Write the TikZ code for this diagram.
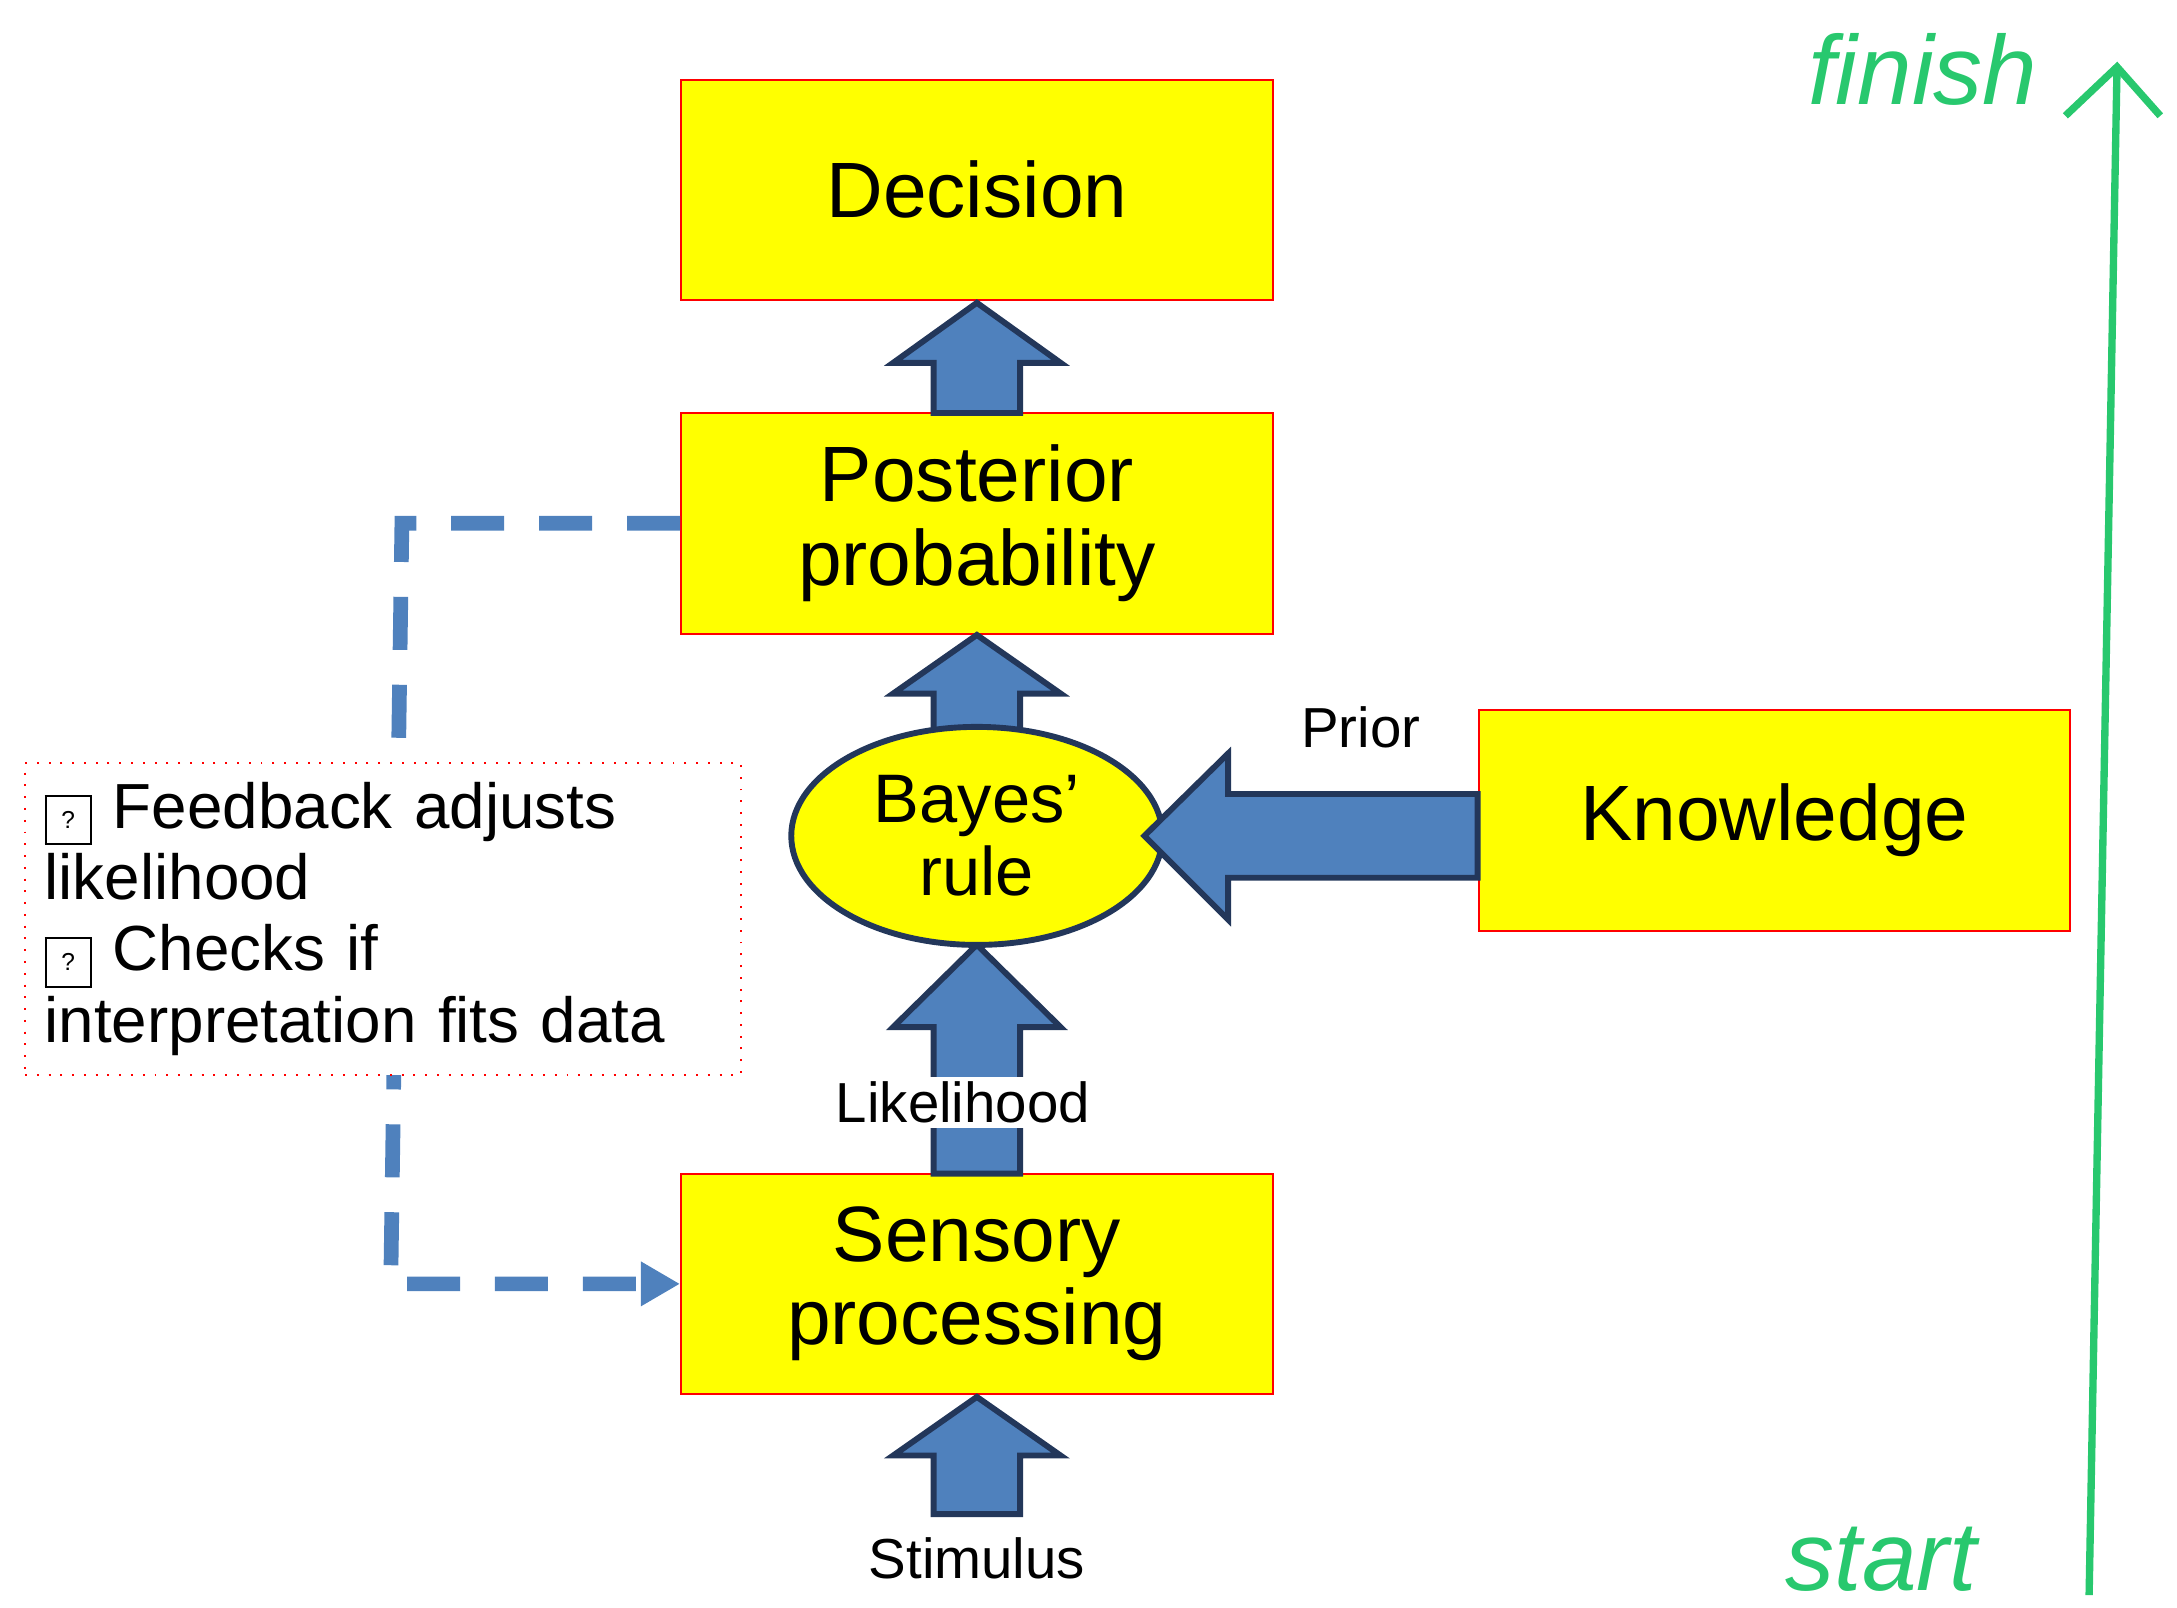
\documentclass[tikz,border=0pt]{standalone}
\usepackage{fontspec}
\setmainfont{Liberation Sans}
\usetikzlibrary{arrows.meta,shapes.geometric}
\definecolor{boxyellow}{RGB}{255,255,0}
\definecolor{arrowblue}{RGB}{79,129,189}
\definecolor{arrowedge}{RGB}{35,55,90}
\definecolor{penGreen}{RGB}{40,200,110}
\tikzset{
  stage/.style={draw=red,fill=boxyellow,minimum width=4.24cm,minimum height=1.58cm,align=center,font=\fontsize{16}{18}\selectfont},
  fat/.style={fill=arrowblue,draw=arrowedge,line width=1.2pt,line join=miter},
  label/.style={font=\fontsize{11.5}{13}\selectfont}
}
\newcommand{\qmark}{\fbox{\tiny ?}}
% block arrow pointing up: tip, base of head, foot of shaft
\newcommand{\uparr}[4]{\draw[fat] (#1,#4) -- (#1-0.31,#4) -- (#1-0.31,#3) -- (#1-0.6,#3) -- (#1,#2) -- (#1+0.6,#3) -- (#1+0.31,#3) -- (#1+0.31,#4) -- cycle;}

\begin{document}
\begin{tikzpicture}
\useasboundingbox (0,0) rectangle (15.6,11.52);

\node[stage] (dec) at (7.0,10.16) {Decision};
\node[stage] (post) at (7.0,7.77) {Posterior\\[-1pt]probability};
\node[stage] (sens) at (7.0,2.32) {Sensory\\[-1pt]processing};
\node[stage] (know) at (12.715,5.64) {Knowledge};

% block arrows
\uparr{7.0}{9.35}{8.92}{8.56}
\uparr{7.0}{6.97}{6.55}{6.25}
\uparr{7.0}{4.75}{4.16}{3.11}
\uparr{7.0}{1.51}{1.09}{0.67}

\node[draw=arrowedge,line width=1.2pt,fill=boxyellow,ellipse,minimum width=2.66cm,minimum height=1.54cm,align=center,font=\fontsize{14}{15}\selectfont] (bayes) at (7.0,5.53) {Bayes’\\rule};
\draw[fat] (know.west |- 0,5.83) -- (8.80,5.83) -- (8.80,6.12) -- (8.20,5.53) -- (8.80,4.93) -- (8.80,5.23) -- (know.west |- 0,5.23) -- cycle;

\node[label,fill=white,inner sep=1pt] (lik) at (6.9,3.62) {Likelihood};
\node[label] (stim) at (7.0,0.35) {Stimulus};
\node[label] (prior) at (9.75,6.31) {Prior};

\coordinate (c1) at (2.88,7.77);
\coordinate (c2) at (2.80,2.32);
\draw[arrowblue,line width=3pt,dash pattern=on 0.38cm off 0.25cm,-{Triangle[length=0.28cm,width=0.3cm]}] (post.west) -- (c1) -- (c2) -- (sens.west);

% feedback note
\node[draw=red,dotted,fill=white,minimum width=5.05cm,minimum height=2.09cm,text width=4.85cm,align=left,inner sep=4pt,font=\fontsize{13}{14.5}\selectfont] (note) at (2.745,4.935)
  {\qmark\ Feedback adjusts\\likelihood\\\qmark\ Checks if\\interpretation fits data};

% progress line
\coordinate (st) at (14.97,0.09);
\coordinate (fi) at (15.17,11.04);
\draw[penGreen,line width=1.5pt] (st) -- (fi);
\draw[penGreen,line width=1.5pt] (14.80,10.69) -- (fi) -- (15.48,10.69);
\node[penGreen,font=\fontsize{20}{22}\itshape] (fin) at (13.78,11.02) {finish};
\node[penGreen,font=\fontsize{20}{22}\itshape] (sta) at (13.48,0.35) {start};
\end{tikzpicture}
\end{document}
